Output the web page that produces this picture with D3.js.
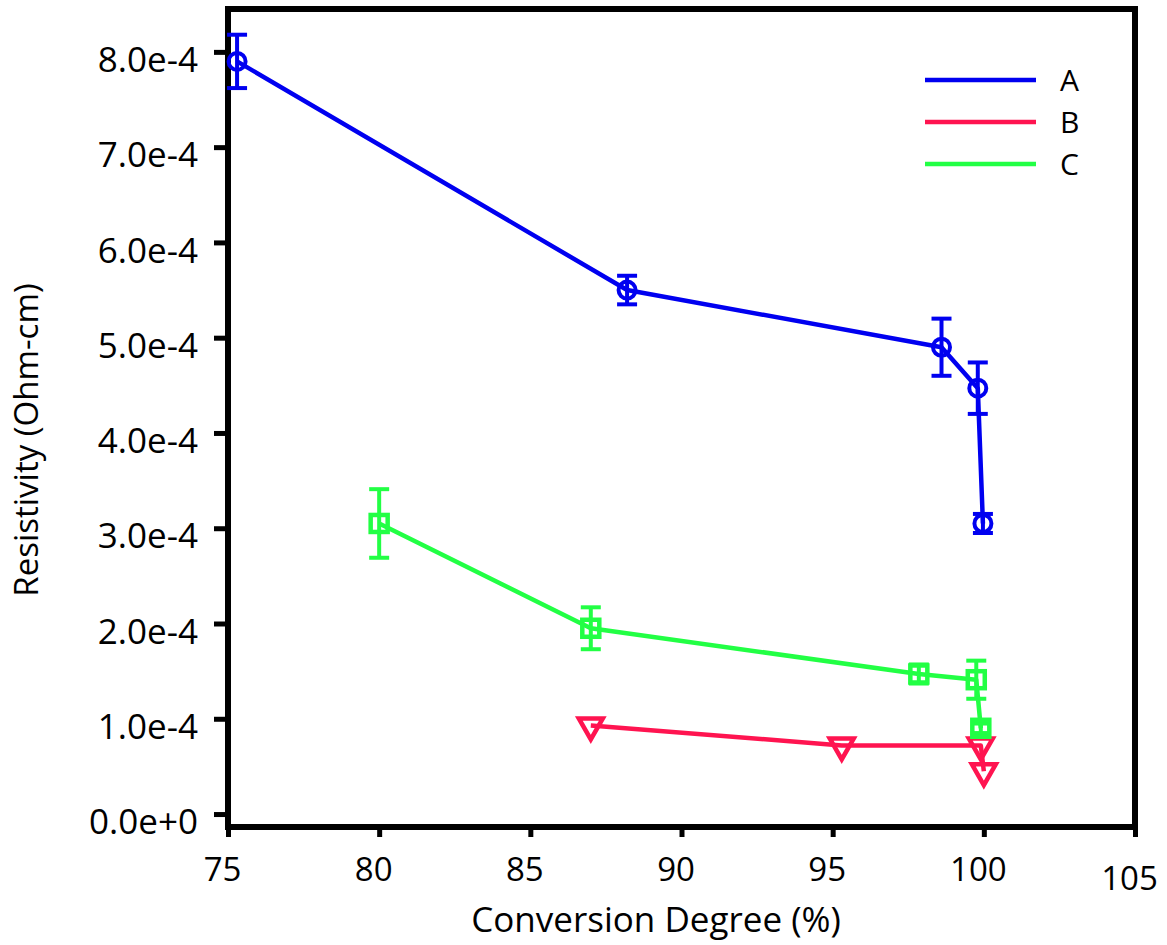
<!DOCTYPE html>
<html>
<head>
<meta charset="utf-8">
<script src="https://cdn.jsdelivr.net/npm/d3@7"></script>
<style>
  body { margin: 0; background: #fff; }
  text { font-family: "Open Sans", "Noto Sans", sans-serif; fill: #000; }
</style>
</head>
<body>
<svg width="1167" height="945"></svg>
<script>
// series data
var seriesNames = ["A", "B", "C"];
var seriesColors = ["#0000f0", "#ff1450", "#22ff44"];

var xA = [75.3, 88.2, 98.6, 99.8, 99.97];
var yA = [7.9e-4, 5.5e-4, 4.9e-4, 4.47e-4, 3.05e-4];
var errA = [0.28e-4, 0.15e-4, 0.30e-4, 0.27e-4, 0.1e-4];

var xB = [87.0, 95.3, 99.9, 100.0];
var yB = [0.93e-4, 0.72e-4, 0.72e-4, 0.45e-4];

var xC = [80.0, 87.0, 97.85, 99.75, 99.9];
var yC = [3.05e-4, 1.95e-4, 1.47e-4, 1.41e-4, 0.9e-4];
var errC = [0.36e-4, 0.22e-4, 0.1e-4, 0.2e-4, 0.05e-4];

var xTicks = [75, 80, 85, 90, 95, 100, 105];
var yTicks = [0, 1e-4, 2e-4, 3e-4, 4e-4, 5e-4, 6e-4, 7e-4, 8e-4];

var svg = d3.select("svg"),
    width = +svg.attr("width"),
    height = +svg.attr("height");

var x = d3.scaleLinear().domain([75, 105]).range([228, 1135]);
var y = d3.scaleLinear().domain([-0.136e-4, 8.45e-4]).range([827, 9]);

// build one record per series
var series = [
  {name: seriesNames[0], color: seriesColors[0], shape: "circle",
   pts: xA.map(function (v, i) { return {x: v, y: yA[i], e: errA[i]}; })},
  {name: seriesNames[1], color: seriesColors[1], shape: "triangle",
   pts: xB.map(function (v, i) { return {x: v, y: yB[i], e: 0}; })},
  {name: seriesNames[2], color: seriesColors[2], shape: "square",
   pts: xC.map(function (v, i) { return {x: v, y: yC[i], e: errC[i]}; })}
];

//---------- axes
var xAxis = svg.append("g")
    .attr("transform", "translate(0," + y.range()[0] + ")")
    .call(d3.axisBottom(x).tickValues(xTicks).tickSize(10).tickSizeOuter(0).tickPadding(34));
xAxis.select(".domain").remove();
xAxis.selectAll(".tick line").attr("stroke", "#000").attr("stroke-width", 5);
xAxis.selectAll(".tick text")
    .attr("font-size", 33)
    .attr("dx", -6)
    .attr("dy", function (d) { return d == 105 ? "0.57em" : "0.3em"; });

var yAxis = svg.append("g")
    .attr("transform", "translate(" + x.range()[0] + ",0)")
    .call(d3.axisLeft(y).tickValues(yTicks).tickSize(14).tickSizeOuter(0)
          .tickPadding(16).tickFormat(d3.format(".1e")));
yAxis.select(".domain").remove();
yAxis.selectAll(".tick line").attr("stroke", "#000").attr("stroke-width", 5);
yAxis.selectAll(".tick text")
    .attr("font-size", 35)
    .attr("dy", "0.56em");

// frame round the plot
svg.append("rect")
    .attr("x", x.range()[0])
    .attr("y", y.range()[1])
    .attr("width", x.range()[1] - x.range()[0])
    .attr("height", y.range()[0] - y.range()[1])
    .attr("fill", "none")
    .attr("stroke", "#000")
    .attr("stroke-width", 6);

svg.append("text")
    .attr("x", 656)
    .attr("y", 932)
    .attr("text-anchor", "middle")
    .attr("font-size", 35)
    .text("Conversion Degree (%)");

svg.append("text")
    .attr("transform", "translate(38,440) rotate(-90)")
    .attr("text-anchor", "middle")
    .attr("font-size", 33)
    .text("Resistivity (Ohm-cm)");

//---------- series
var line = d3.line()
    .x(function (d) { return x(d.x); })
    .y(function (d) { return y(d.y); });

var triangle = "M-12,-7L12,-7L0,14Z";

series.forEach(function (s) {
  var g = svg.append("g");

  g.append("path")
      .attr("d", line(s.pts))
      .attr("fill", "none")
      .attr("stroke", s.color)
      .attr("stroke-width", 4.5)
      .attr("stroke-linejoin", "round");

  // error bars
  var eb = g.selectAll(".err")
      .data(s.pts.filter(function (d) { return d.e > 0; }))
      .enter().append("g")
      .attr("stroke", s.color)
      .attr("stroke-width", 4);
  eb.append("line")
      .attr("x1", function (d) { return x(d.x); })
      .attr("x2", function (d) { return x(d.x); })
      .attr("y1", function (d) { return y(d.y + d.e); })
      .attr("y2", function (d) { return y(d.y - d.e); });
  eb.append("line")
      .attr("x1", function (d) { return x(d.x) - 10; })
      .attr("x2", function (d) { return x(d.x) + 10; })
      .attr("y1", function (d) { return y(d.y + d.e); })
      .attr("y2", function (d) { return y(d.y + d.e); });
  eb.append("line")
      .attr("x1", function (d) { return x(d.x) - 10; })
      .attr("x2", function (d) { return x(d.x) + 10; })
      .attr("y1", function (d) { return y(d.y - d.e); })
      .attr("y2", function (d) { return y(d.y - d.e); });

  // markers
  var m = g.selectAll(".mark")
      .data(s.pts)
      .enter();
  if (s.shape == "circle") {
    m.append("circle")
        .attr("cx", function (d) { return x(d.x); })
        .attr("cy", function (d) { return y(d.y); })
        .attr("r", 8.5)
        .attr("fill", "none")
        .attr("stroke", s.color)
        .attr("stroke-width", 4);
  } else if (s.shape == "square") {
    m.append("rect")
        .attr("x", function (d) { return x(d.x) - 8.5; })
        .attr("y", function (d) { return y(d.y) - 8.5; })
        .attr("width", 17)
        .attr("height", 17)
        .attr("fill", "none")
        .attr("stroke", s.color)
        .attr("stroke-width", 4.5);
  } else {
    m.append("path")
        .attr("d", triangle)
        .attr("transform", function (d) { return "translate(" + x(d.x) + "," + y(d.y) + ")"; })
        .attr("fill", "none")
        .attr("stroke", s.color)
        .attr("stroke-width", 4.5)
        .attr("stroke-linejoin", "miter");
  }
});

//---------- legend
var legend = svg.selectAll(".legend")
    .data(series)
    .enter().append("g")
    .attr("transform", function (d, i) { return "translate(0," + (80 + i * 42) + ")"; });

legend.append("line")
    .attr("x1", 925)
    .attr("x2", 1036)
    .attr("stroke", function (d) { return d.color; })
    .attr("stroke-width", 4.5);

legend.append("text")
    .attr("x", 1060)
    .attr("y", 11)
    .attr("font-size", 30)
    .text(function (d) { return d.name; });
</script>
</body>
</html>
